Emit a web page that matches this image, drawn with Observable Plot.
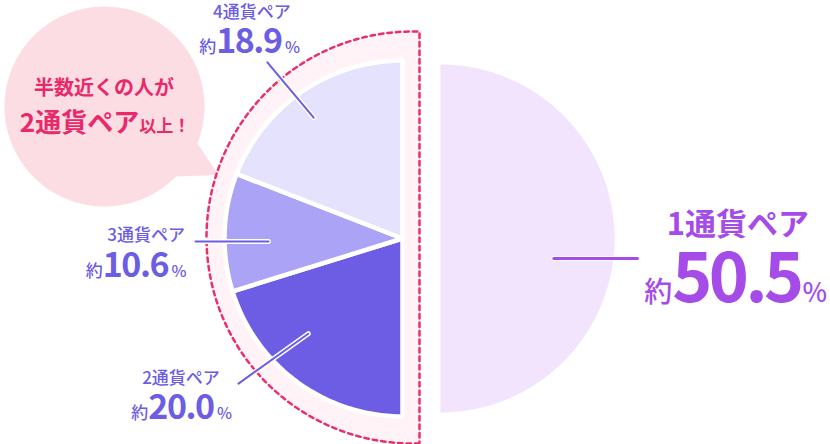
<!DOCTYPE html>
<html><head><meta charset="utf-8">
<script src="https://cdn.jsdelivr.net/npm/d3@7"></script>
<script src="https://cdn.jsdelivr.net/npm/@observablehq/plot@0.6"></script>
<style>
html,body{margin:0;padding:0;background:#fff;}
#chart svg{display:block;}
</style>
</head><body><div id="chart"></div>
<script>
// ---- data ----
const categories = ["1通貨ペア", "2通貨ペア", "3通貨ペア", "4通貨ペア"];
const shares = [50.5, 20.0, 10.6, 18.9];
const shareText = ["50.5", "20.0", "10.6", "18.9"];
const calloutLine1 = "半数近くの人が";
const calloutLine2 = ["2通貨ペア", "以上！"];

// ---- styles ----
const sliceColors = ["#f1e4fc", "#6c5de4", "#aba3f5", "#e5e2fd"];
const labelColors = ["#a54ce8", "#6c5de4", "#6c5de4", "#6c5de4"];
const pink = "#e8296a";
const FONT = "'Noto Sans CJK JP', 'Noto Sans', sans-serif";

// ---- layout ----
const W = 830, H = 444;
const leftC = [402, 238], rightC = [440, 238], RL = 178, RR = 174;
const bg = {cx: 412, cy: 237, r: 206, edge: 419};
const bubble = {cx: 104, cy: 106, r: 100, a1: 110, a2: 137, tipA: 121, tipR: 133};
// leader lines in polar form (deg clockwise from 12 o'clock, radius) from the slice centre
const leaders = [
  {a1: 100, r1: 115, a2: 95.8, r2: 198},
  {a1: 224.7, r1: 134, a2: 228.5, r2: 219},
  {a1: 268.7, r1: 134, a2: 269.2, r2: 207},
  {a1: 323.7, r1: 150, a2: 322.5, r2: 222}
];
// label offsets from outer end of leader
const labelPos = [
  {anchor: "middle", name: [101, -23], value: [99, 44], nameSize: 31, nameWeight: 700, smallSize: 28, numSize: 68, pctSize: 26, ls: -3.5, pdx: 1},
  {anchor: "middle", name: [-57, 1], value: [-56, 36], nameSize: 17, nameWeight: 500, smallSize: 17, numSize: 34, pctSize: 16, ls: -1.5, pdx: 3},
  {anchor: "end", name: [-10, 0], value: [-8, 36], nameSize: 17, nameWeight: 500, smallSize: 17, numSize: 34, pctSize: 16, ls: -1.5, pdx: 3},
  {anchor: "middle", name: [-15, -44], value: [-17, -9], nameSize: 17, nameWeight: 500, smallSize: 17, numSize: 34, pctSize: 16, ls: -1.5, pdx: 3}
];

const rad = d => d * Math.PI / 180;
const polar = (c, a, r) => [c[0] + r * Math.sin(a), c[1] - r * Math.cos(a)];

function sector(key, c, r, a0, a1, withCenter = true) {
  const pts = withCenter ? [{key, x: c[0], y: c[1]}] : [];
  const n = Math.max(2, Math.ceil(Math.abs(a1 - a0) / rad(1)));
  for (let i = 0; i <= n; i++) {
    const [x, y] = polar(c, a0 + (a1 - a0) * i / n, r);
    pts.push({key, x, y});
  }
  return pts;
}

const rows = categories.map((c, i) => ({key: c, share: shares[i], text: shareText[i], i}));

// 1通貨ペア takes the right half, the rest share the left half in proportion
const leftArcs = d3.pie().sort(null).value(d => d.share)
  .startAngle(Math.PI).endAngle(2 * Math.PI)(rows.slice(1));
const leftPts = leftArcs.flatMap(a => sector(a.data.key, leftC, RL, a.startAngle, a.endAngle));
const rightPts = sector(rows[0].key, rightC, RR, 0, Math.PI);

// background half disc
const t0 = Math.asin((bg.edge - bg.cx) / bg.r);
const bgPts = sector("bg", [bg.cx, bg.cy], bg.r, Math.PI - t0, 2 * Math.PI + t0, false);

// speech bubble
const bubblePts = sector("bubble", [bubble.cx, bubble.cy], bubble.r, 0, 2 * Math.PI, false);
const tailPts = [
  polar([bubble.cx, bubble.cy], rad(bubble.a1), bubble.r - 4),
  polar([bubble.cx, bubble.cy], rad(bubble.tipA), bubble.tipR),
  polar([bubble.cx, bubble.cy], rad(bubble.a2), bubble.r - 4)
].map(([x, y]) => ({key: "tail", x, y}));

// leader segments
const leaderRows = rows.map((d, i) => {
  const c = i === 0 ? rightC : leftC;
  const L = leaders[i];
  const [x1, y1] = polar(c, rad(L.a1), L.r1);
  const [x2, y2] = polar(c, rad(L.a2), L.r2);
  return {key: d.key, i, x1, y1, x2, y2};
});

// text labels
function labelsMark(index, scales) {
  const sx = scales && typeof scales.x === "function" ? scales.x : v => v;
  const sy = scales && typeof scales.y === "function" ? scales.y : v => v;
  const g = d3.create("svg:g").attr("font-family", FONT);
  // callout text
  g.append("text").attr("x", sx(bubble.cx)).attr("y", sy(95)).attr("text-anchor", "middle")
    .attr("fill", pink).attr("font-size", 20).attr("font-weight", 700).text(calloutLine1);
  const t2 = g.append("text").attr("x", sx(bubble.cx + 1)).attr("y", sy(132)).attr("text-anchor", "middle")
    .attr("fill", pink).attr("font-weight", 700);
  t2.append("tspan").attr("font-size", 26).text(calloutLine2[0]);
  t2.append("tspan").attr("font-size", 17).text(calloutLine2[1]);
  // slice labels
  for (const d of leaderRows) {
    const p = labelPos[d.i];
    const col = labelColors[d.i];
    g.append("text").attr("x", sx(d.x2 + p.name[0])).attr("y", sy(d.y2 + p.name[1]))
      .attr("text-anchor", p.anchor).attr("fill", col)
      .attr("font-size", p.nameSize).attr("font-weight", p.nameWeight).text(rows[d.i].key);
    const v = g.append("text").attr("x", sx(d.x2 + p.value[0])).attr("y", sy(d.y2 + p.value[1]))
      .attr("text-anchor", p.anchor).attr("fill", col).attr("font-weight", 700);
    v.append("tspan").attr("font-size", p.smallSize).attr("font-weight", 500).text("約");
    v.append("tspan").attr("font-size", p.numSize).attr("letter-spacing", p.ls).text(rows[d.i].text);
    v.append("tspan").attr("font-size", p.pctSize).attr("font-weight", 500).attr("dx", p.pdx).text("％");
  }
  return g.node();
}

const chart = Plot.plot({
  width: W, height: H,
  margin: 0,
  x: {domain: [0, W], range: [0, W], axis: null},
  y: {domain: [0, H], range: [0, H], axis: null},
  color: {domain: categories, range: sliceColors},
  style: {background: "#fff", overflow: "visible"},
  marks: [
    Plot.line(bubblePts, {x: "x", y: "y", fill: "#fddde4", stroke: "none", curve: "linear-closed"}),
    Plot.line(tailPts, {x: "x", y: "y", fill: "#fddde4", stroke: "none", curve: "linear-closed"}),
    Plot.line(bgPts, {x: "x", y: "y", fill: "#fff3f7", stroke: "#e9306a", strokeWidth: 2.5,
      strokeDasharray: "4.5,4", curve: "linear-closed"}),
    Plot.line(leftPts, {x: "x", y: "y", z: "key", fill: "key", stroke: "white", strokeWidth: 4.5,
      strokeLinejoin: "round", curve: "linear-closed"}),
    Plot.line(rightPts, {x: "x", y: "y", z: "key", fill: "key", stroke: "none", curve: "linear-closed"}),
    Plot.link(leaderRows, {x1: "x1", y1: "y1", x2: "x2", y2: "y2", stroke: "white", strokeWidth: 5, strokeLinecap: "round"}),
    Plot.link(leaderRows.filter(d => d.i !== 0), {x1: "x1", y1: "y1", x2: "x2", y2: "y2", stroke: labelColors[1], strokeWidth: 2, strokeLinecap: "round"}),
    Plot.link(leaderRows.filter(d => d.i === 0), {x1: "x1", y1: "y1", x2: "x2", y2: "y2", stroke: labelColors[0], strokeWidth: 3, strokeLinecap: "round"}),
    labelsMark
  ]
});
document.getElementById("chart").appendChild(chart);
</script>
</body></html>
